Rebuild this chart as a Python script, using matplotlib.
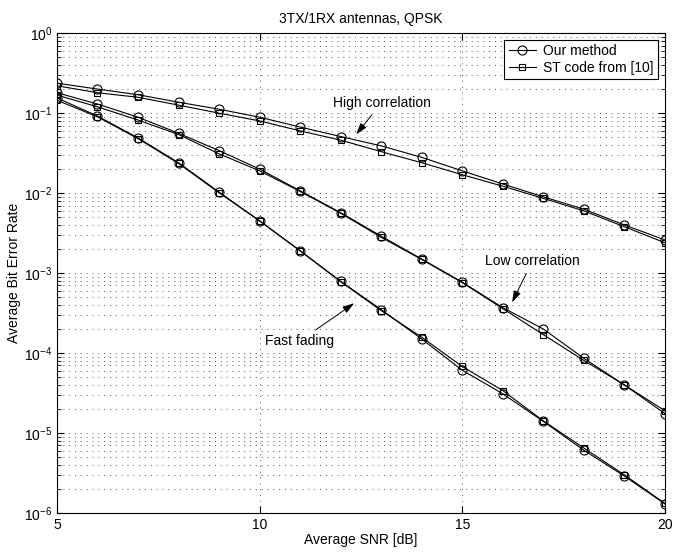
import numpy as np
import matplotlib.pyplot as plt
from matplotlib.ticker import LogLocator, NullFormatter

plt.rcParams['font.family'] = ['Liberation Sans', 'DejaVu Sans']

snr = [5, 6, 7, 8, 9, 10, 11, 12, 13, 14, 15, 16, 17, 18, 19, 20]

high_ours = [0.237, 0.20, 0.17, 0.137, 0.112, 0.089, 0.067, 0.051, 0.039, 0.028,
             0.019, 0.013, 0.009, 0.0063, 0.004, 0.0026]
high_st = [0.22, 0.18, 0.158, 0.126, 0.10, 0.08, 0.06, 0.046, 0.033, 0.024,
           0.017, 0.0122, 0.0086, 0.006, 0.0038, 0.0024]

low_ours = [0.18, 0.13, 0.089, 0.056, 0.034, 0.020, 0.0107, 0.0057, 0.0029, 0.0015,
            7.7e-4, 3.7e-4, 2.0e-4, 8.6e-5, 4.0e-5, 1.75e-5]
low_st = [0.168, 0.12, 0.082, 0.054, 0.031, 0.019, 0.0105, 0.0056, 0.0028, 0.00148,
          7.6e-4, 3.6e-4, 1.7e-4, 8.1e-5, 4.0e-5, 1.9e-5]

fast_ours = [0.155, 0.092, 0.049, 0.024, 0.0103, 0.0045, 0.0019, 7.9e-4, 3.5e-4, 1.5e-4,
             6.1e-5, 3.1e-5, 1.4e-5, 6.1e-6, 2.9e-6, 1.3e-6]
fast_st = [0.145, 0.09, 0.048, 0.0235, 0.0101, 0.0045, 0.0019, 7.8e-4, 3.4e-4, 1.58e-4,
           6.8e-5, 3.4e-5, 1.42e-5, 6.5e-6, 3.0e-6, 1.32e-6]


def main():
    fig = plt.figure(figsize=(6.75, 5.53), dpi=100)
    ax = fig.add_axes([0.0844, 0.0723, 0.9006, 0.8677])

    style_o = dict(color='black', lw=0.8, marker='o', ms=6.5, mfc='none', mew=0.8)
    style_s = dict(color='black', lw=0.8, marker='s', ms=5, mfc='none', mew=0.8)

    ax.semilogy(snr, high_ours, label='Our method', **style_o)
    ax.semilogy(snr, high_st, label='ST code from [10]', **style_s)
    ax.semilogy(snr, low_ours, **style_o)
    ax.semilogy(snr, low_st, **style_s)
    ax.semilogy(snr, fast_ours, **style_o)
    ax.semilogy(snr, fast_st, **style_s)

    ax.set_xlim(5, 20)
    ax.set_ylim(1e-6, 1)
    ax.set_xticks([5, 10, 15, 20])
    ax.yaxis.set_major_locator(LogLocator(base=10, numticks=10))
    ax.yaxis.set_minor_locator(LogLocator(base=10, subs=np.arange(2, 10), numticks=20))
    ax.yaxis.set_minor_formatter(NullFormatter())
    ax.tick_params(which='both', direction='in', top=True, right=True, labelsize=10)
    ax.tick_params(which='major', length=5)
    ax.tick_params(which='minor', length=3)

    grid_ls = (0, (1, 5))
    ax.grid(True, which='major', ls=grid_ls, color='#555555', lw=0.7)
    ax.grid(True, which='minor', axis='y', ls=grid_ls, color='#555555', lw=0.7)
    for s in ax.spines.values():
        s.set_linewidth(0.8)

    ax.set_xlabel('Average SNR [dB]', fontsize=10, labelpad=1)
    ax.set_ylabel('Average Bit Error Rate', fontsize=10, labelpad=2)
    ax.set_title('3TX/1RX antennas, QPSK', fontsize=10, pad=7)

    arrow = dict(arrowstyle='-|>,head_length=0.7,head_width=0.22', color='black',
                 lw=0.7, mutation_scale=10)
    ax.annotate('High correlation', xy=(12.34, 0.051), xytext=(11.8, 0.11),
                fontsize=10, ha='left', va='bottom', arrowprops=arrow)
    ax.annotate('Low correlation', xy=(16.2, 4.0e-4), xytext=(15.56, 1.15e-3),
                fontsize=10, ha='left', va='bottom', arrowprops=arrow)
    ax.annotate('Fast fading', xy=(12.39, 4.4e-4), xytext=(10.13, 1.15e-4),
                fontsize=10, ha='left', va='bottom', arrowprops=arrow)

    leg = ax.legend(loc='upper right', fontsize=10, fancybox=False, framealpha=1,
                    edgecolor='black', handlelength=2.0, borderaxespad=0.5,
                    borderpad=0.3, labelspacing=0.2, handletextpad=0.5)
    leg.get_frame().set_linewidth(0.8)

    fig.savefig('out.png', dpi=100)


if __name__ == "__main__":
    main()
